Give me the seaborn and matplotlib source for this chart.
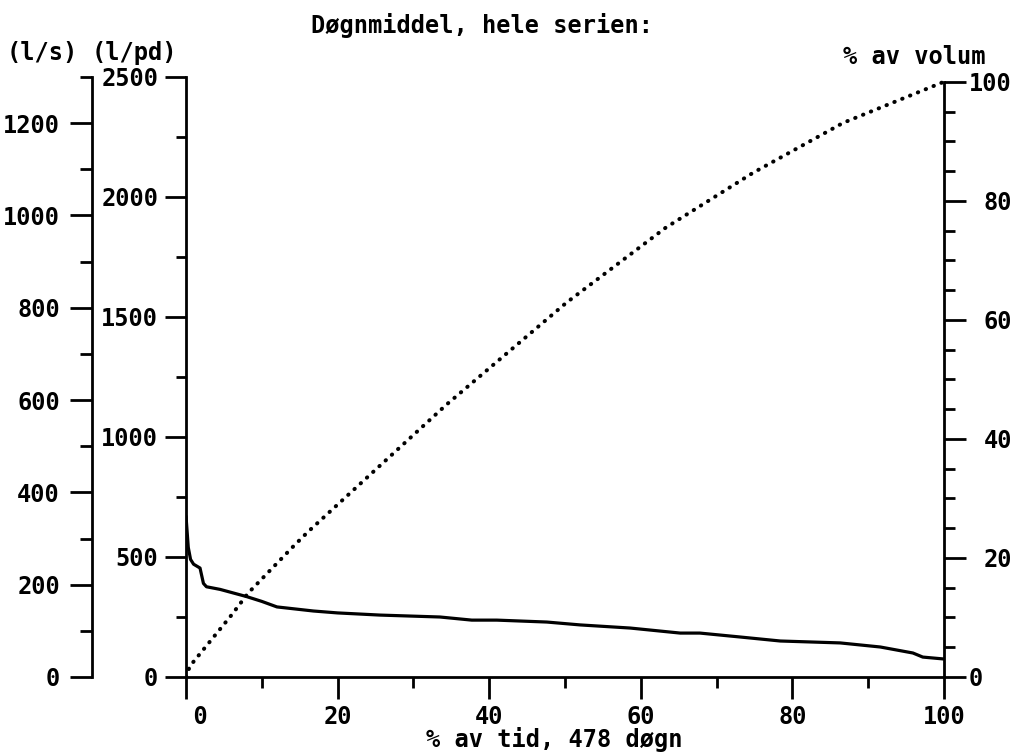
import numpy as np
import pandas as pd
import matplotlib
matplotlib.use("Agg")
import matplotlib.pyplot as plt
import seaborn as sns
from matplotlib.ticker import MultipleLocator, FixedLocator, FixedFormatter

# ---- data ----
time_pct = [0, 0.3, 0.6, 1.0, 1.85, 2.3, 2.7, 4.5, 8.0, 10.0, 12.0, 16.8, 20.0,
            25.6, 33.5, 37.7, 41.0, 47.6, 52.0, 58.6, 65.2, 67.8, 73.0, 78.4,
            86.3, 91.6, 95.9, 97.2, 100.0]
flow_lpd = [670, 540, 490, 470, 454, 390, 376, 365, 335, 315, 292, 275, 267,
            258, 250, 237, 237, 229, 217, 204, 183, 183, 167, 150,
            142, 125, 100, 83, 75]

vol_time_pct = [0, 0.5, 6.0, 8.2, 14.2, 16.1, 24.3, 34.4, 50.2, 63.3, 74.8, 86.7, 100.0]
vol_pct = [0, 1.8, 10.4, 14.1, 22.0, 24.4, 34.0, 45.8, 62.9, 75.5, 84.7, 93.1, 100.0]

x_ticks = [0, 20, 40, 60, 80, 100]
x_ticklabels = ["  0", "20", "40", "60", "80", "100"]
lpd_ticks = [0, 500, 1000, 1500, 2000, 2500]
ls_ticks = [0, 200, 400, 600, 800, 1000, 1200]
vol_ticks = [0, 20, 40, 60, 80, 100]
vol_ticklabels = ["0  ", "20", "40", "60", "80", "100"]

title = "Døgnmiddel, hele serien:"
xlabel = "% av tid, 478 døgn"

# ---- style ----
sns.set_style("ticks")
plt.rcParams["font.family"] = ["DejaVu Sans Mono", "DejaVu Sans"]
plt.rcParams["font.weight"] = "bold"
plt.rcParams["font.size"] = 17
for k in ["text.color", "axes.edgecolor", "xtick.color", "ytick.color", "axes.labelcolor"]:
    plt.rcParams[k] = "black"

W, H = 1015, 754
fig = plt.figure(figsize=(W / 100, H / 100), dpi=100)
L, R, B, T = 186, 944, 677, 77
ax = fig.add_axes([L / W, 1 - B / H, (R - L) / W, (B - T) / H])

df_flow = pd.DataFrame({"t": time_pct, "q": flow_lpd})
sns.lineplot(data=df_flow, x="t", y="q", ax=ax, color="black", lw=2.3,
             estimator=None, sort=False)
ax.set_xlim(0, 100)
ax.set_ylim(0, 2500)
ax.set_xlabel("")
ax.set_ylabel("")

# right axis: % of volume
ax_r = ax.twinx()
df_vol = pd.DataFrame({"t": vol_time_pct, "v": vol_pct})
sns.lineplot(data=df_vol, x="t", y="v", ax=ax_r, color="black", lw=2.9,
             linestyle=(0, (0.1, 2.0)), dash_capstyle="round",
             estimator=None, sort=False)
ax_r.set_ylim(0, 100.8)
ax_r.set_xlim(0, 100)
ax_r.set_ylabel("")

# outer left axis: l/s
ax_ls = ax.twinx()
ax_ls.set_ylim(0, 1300)
ax_ls.set_xlim(0, 100)

lw_sp = 2.0
for a in (ax, ax_r, ax_ls):
    for s in a.spines.values():
        s.set_visible(False)
        s.set_linewidth(lw_sp)

ax.spines["left"].set_visible(True)
ax.spines["bottom"].set_visible(True)
ax_r.spines["right"].set_visible(True)
ax_r.spines["right"].set_bounds(0, 100)
ax_ls.spines["left"].set_visible(True)
ax_ls.spines["left"].set_position(("outward", (L - 92) * 72 / 100))
ax_ls.yaxis.set_ticks_position("left")
ax_ls.yaxis.set_label_position("left")

# ticks
ax.xaxis.set_major_locator(FixedLocator(x_ticks))
ax.xaxis.set_major_formatter(FixedFormatter(x_ticklabels))
ax.xaxis.set_minor_locator(MultipleLocator(10))
ax.yaxis.set_major_locator(FixedLocator(lpd_ticks))
ax.yaxis.set_minor_locator(MultipleLocator(250))

ax_ls.yaxis.set_major_locator(FixedLocator(ls_ticks))
ax_ls.yaxis.set_minor_locator(MultipleLocator(100))

ax_r.yaxis.set_major_locator(FixedLocator(vol_ticks))
ax_r.yaxis.set_major_formatter(FixedFormatter(vol_ticklabels))
ax_r.yaxis.set_minor_locator(FixedLocator(list(range(0, 101, 5))))

ax.tick_params(axis="x", which="major", length=16, width=2, pad=4, direction="out")
ax.tick_params(axis="x", which="minor", length=8, width=2, direction="out")
ax.tick_params(axis="y", which="major", length=15, width=2, pad=5, direction="out")
ax.tick_params(axis="y", which="minor", length=7, width=2, direction="out")
ax_ls.tick_params(axis="y", which="major", length=16, width=2, pad=7, direction="out",
                  left=True, right=False, labelleft=True, labelright=False)
ax_ls.tick_params(axis="y", which="minor", length=9, width=2, direction="out",
                  left=True, right=False)
ax_r.tick_params(axis="y", which="major", length=16, width=2, pad=33, direction="out")
ax_r.tick_params(axis="y", which="minor", length=8, width=2, direction="out")
for lab in ax_r.get_yticklabels():
    lab.set_horizontalalignment("right")

# texts
fig.text(482 / W, 1 - 26 / H, title, ha="center", va="center")
fig.text(42 / W, 1 - 53 / H, "(l/s)", ha="center", va="center")
fig.text(134 / W, 1 - 53 / H, "(l/pd)", ha="center", va="center")
fig.text(914 / W, 1 - 57 / H, "% av volum", ha="center", va="center")
fig.text(554 / W, 1 - 740 / H, xlabel, ha="center", va="center")

fig.savefig("out.png", dpi=100, facecolor="white")
